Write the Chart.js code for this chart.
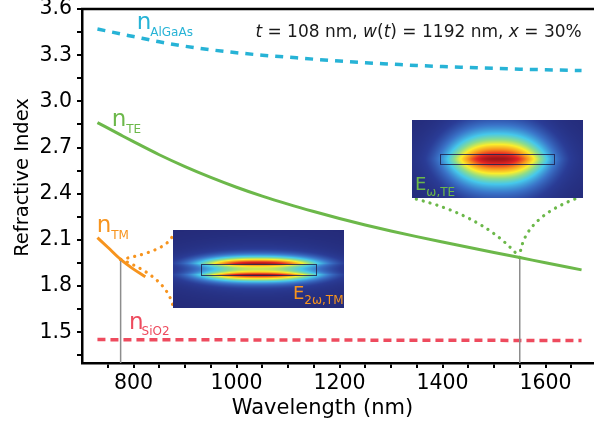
<!DOCTYPE html>
<html><head><meta charset="utf-8">
<script src="https://cdn.jsdelivr.net/npm/chart.js@4.4.1/dist/chart.umd.min.js"></script>
<style>
html,body{margin:0;padding:0;overflow:hidden;background:#fff;width:594px;height:433px}
#wrap{position:relative;width:598px;height:433px}
</style>
</head><body>
<div id="wrap"><canvas id="c" width="598" height="433"></canvas></div>
<script>
// ---------- data ----------
const wavelengths = [730, 775, 800, 850, 900, 950, 1000, 1050, 1100, 1150, 1200, 1250, 1300, 1350, 1400, 1450, 1500, 1550, 1600, 1670];
const nAlGaAs = [3.470, 3.438, 3.421, 3.387, 3.358, 3.335, 3.316, 3.300, 3.287, 3.274, 3.262, 3.251, 3.242, 3.233, 3.226, 3.220, 3.214, 3.209, 3.205, 3.200];
const nTE = [2.862, 2.782, 2.738, 2.653, 2.576, 2.506, 2.442, 2.384, 2.332, 2.284, 2.239, 2.197, 2.158, 2.121, 2.086, 2.052, 2.018, 1.985, 1.951, 1.905];
const tmWavelengths = [730, 750, 775, 800, 823];
const nTM = [2.114, 2.052, 1.973, 1.910, 1.861];
const sio2Wavelengths = [730, 1670];
const nSiO2 = [1.452, 1.446];
const markerWavelengths = [775, 1550];
const markerTops = [1.973, 1.985];
const xTickLabels = ['800', '1000', '1200', '1400', '1600'];
const yTickLabels = ['1.5', '1.8', '2.1', '2.4', '2.7', '3.0', '3.3', '3.6'];
const xRange = [700, 1700];
const yRange = [1.3, 3.6];

// ---------- styling / layout ----------
const COL = {cyan:'#27b3d6', green:'#6cb84a', orange:'#f7941e', red:'#ee4b5e', gray:'#8d8d8d', text:'#1a1a1a'};
const FONT = 'DejaVu Sans';
const pts = (xs, ys) => xs.map((x, i) => ({x: x, y: ys[i]}));

const layoutCfg = {
  insetTE: {x0:1340.2, x1:1672.2, y0:2.879, y1:2.370},
  insetTM: {x0:876.1, x1:1207.4, y0:2.164, y1:1.655},
  greenLinks: [
    {to:[1340.2, 2.372], c:[1480.6, 2.260]},
    {to:[1660.6, 2.370], c:[1554.4, 2.237]}
  ],
  orangeLinks: [
    {to:[876.1, 2.131], c:[866.8, 2.031]},
    {to:[877.3, 1.662], c:[864.9, 1.857]}
  ],
  labels: [
    {x:806.2, y:3.467, main:'n', sub:'AlGaAs', color:COL.cyan, size:23, subSize:12, dy:6.5, gap:-1},
    {x:757.7, y:2.840, main:'n', sub:'TE', color:COL.green, size:23, subSize:12, dy:6.7, gap:0},
    {x:728.5, y:2.153, main:'n', sub:'TM', color:COL.orange, size:23, subSize:12, dy:7.3, gap:0},
    {x:791.3, y:1.519, main:'n', sub:'SiO2', color:COL.red, size:23, subSize:12, dy:6, gap:-2},
    {x:1346.6, y:2.424, main:'E', sub:'\u03c9,TE', color:COL.green, size:18, subSize:12, dy:6, gap:0},
    {x:1109.7, y:1.716, main:'E', sub:'2\u03c9,TM', color:COL.orange, size:18, subSize:12, dy:5.3, gap:0}
  ],
  note: {x:1670.3, y:3.420, size:17,
    parts:[['t',1],[' = 108 nm, ',0],['w',1],['(',0],['t',1],[') = 1192 nm, ',0],['x',1],[' = 30%',0]]},
  xTitle: {text:'Wavelength (nm)', cx:322.5, base:414, size:21},
  yTitle: {text:'Refractive Index', cy:177.5, base:28.3, size:19.5}
};

// ---------- mode-profile pictures ----------
const cmapStops = [
  [0.00, [36, 42, 120]],
  [0.10, [42, 60, 150]],
  [0.22, [58, 115, 200]],
  [0.36, [70, 200, 235]],
  [0.48, [140, 220, 140]],
  [0.60, [250, 238, 45]],
  [0.73, [248, 150, 30]],
  [0.86, [228, 38, 36]],
  [1.00, [140, 16, 22]]
];
function cmap(v){
  v = Math.max(0, Math.min(1, v));
  for (let i = 1; i < cmapStops.length; i++){
    const a = cmapStops[i-1], b = cmapStops[i];
    if (v <= b[0]){
      const t = (v - a[0]) / (b[0] - a[0]);
      return [0,1,2].map(k => a[1][k] + t*(b[1][k] - a[1][k]));
    }
  }
  return cmapStops[cmapStops.length-1][1];
}
function modeCanvas(w, h, fn){
  const cv = document.createElement('canvas');
  cv.width = w; cv.height = h;
  const g = cv.getContext('2d');
  const img = g.createImageData(w, h);
  for (let j = 0; j < h; j++){
    for (let i = 0; i < w; i++){
      const dx = (i + 0.5 - w/2), dy = (j + 0.5 - h/2);
      const rgb = cmap(fn(dx, dy, w, h));
      const k = 4*(j*w + i);
      img.data[k] = Math.round(rgb[0]); img.data[k+1] = Math.round(rgb[1]);
      img.data[k+2] = Math.round(rgb[2]); img.data[k+3] = 255;
    }
  }
  g.putImageData(img, 0, 0);
  return cv;
}
function fieldTE(dx, dy, w, h){
  const sx = 48*w/171, sy = 24*h/78;
  const core = Math.exp(-(Math.pow(Math.abs(dx/sx), 2.5) + Math.pow(Math.abs(dy/sy), 1.3)));
  const halo = Math.exp(-((dx/(85*w/171))**2 + (dy/(36*h/78))**2));
  return 0.97*(0.9*core + 0.1*halo);
}
function fieldTM(dx, dy, w, h){
  const sx = 58*w/171, hh = 5.5*h/78, L = 6.5*h/78;
  const X = Math.exp(-Math.pow(Math.abs(dx/sx), 2.5));
  const a = Math.abs(dy);
  const Y = a <= hh ? 0.5 + 0.5*(a/hh)*(a/hh) : Math.exp(-Math.pow((a-hh)/L, 1.5));
  const halo = Math.exp(-((dx/(90*w/171))**2 + (dy/(26*h/78))**2));
  return 0.95*(0.86*X*Y + 0.14*halo);
}
const modeCache = {};

// ---------- decoration plugin ----------
const decor = {
  id: 'decor',
  afterDatasetsDraw(chart){
    const ctx = chart.ctx, xs = chart.scales.x, ys = chart.scales.y, ca = chart.chartArea;
    const X = v => xs.getPixelForValue(v), Y = v => ys.getPixelForValue(v);
    ctx.save();
    ctx.strokeStyle = '#000'; ctx.lineWidth = 2.5;
    ctx.beginPath(); ctx.moveTo(ca.left - 1, ca.top); ctx.lineTo(ca.right + 2, ca.top); ctx.stroke();

    function links(list, from, color){
      ctx.save();
      ctx.strokeStyle = color; ctx.lineWidth = 3.2; ctx.lineCap = 'round';
      ctx.setLineDash([0.1, 7]);
      list.forEach(l => {
        ctx.beginPath();
        ctx.moveTo(X(from[0]), Y(from[1]));
        ctx.quadraticCurveTo(X(l.c[0]), Y(l.c[1]), X(l.to[0]), Y(l.to[1]));
        ctx.stroke();
      });
      ctx.restore();
    }
    links(layoutCfg.greenLinks, [markerWavelengths[1], markerTops[1]], COL.green);
    links(layoutCfg.orangeLinks, [markerWavelengths[0], markerTops[0]], COL.orange);

    function inset(box, fn, key, wgW, wgH){
      const x0 = X(box.x0), x1 = X(box.x1), y0 = Y(box.y0), y1 = Y(box.y1);
      const w = Math.round(x1 - x0), h = Math.round(y1 - y0);
      const k = key + w + 'x' + h;
      if (!modeCache[k]) modeCache[k] = modeCanvas(w, h, fn);
      ctx.drawImage(modeCache[k], Math.round(x0), Math.round(y0));
      const cx = Math.round(x0) + w/2, cy = Math.round(y0) + h/2;
      ctx.strokeStyle = 'rgba(30,35,80,0.85)'; ctx.lineWidth = 1;
      ctx.strokeRect(Math.round(cx - wgW*w/2) + 0.5, Math.round(cy - wgH*h/2) + 0.5, Math.round(wgW*w), Math.round(wgH*h));
    }
    inset(layoutCfg.insetTE, fieldTE, 'te', 0.667, 0.128);
    inset(layoutCfg.insetTM, fieldTM, 'tm', 0.674, 0.141);

    ctx.textBaseline = 'alphabetic'; ctx.textAlign = 'left';
    layoutCfg.labels.forEach(l => {
      const px = X(l.x), py = Y(l.y);
      ctx.fillStyle = l.color;
      ctx.font = l.size + 'px "' + FONT + '"';
      ctx.fillText(l.main, px, py);
      const mw = ctx.measureText(l.main).width;
      ctx.font = l.subSize + 'px "' + FONT + '"';
      ctx.fillText(l.sub, px + mw + l.gap, py + l.dy);
    });

    const n = layoutCfg.note;
    const fonts = [n.size + 'px "' + FONT + '"', 'italic ' + n.size + 'px "' + FONT + '"'];
    let total = 0;
    n.parts.forEach(p => { ctx.font = fonts[p[1]]; total += ctx.measureText(p[0]).width; });
    let cx = X(n.x) - total;
    ctx.fillStyle = COL.text;
    n.parts.forEach(p => { ctx.font = fonts[p[1]]; ctx.fillText(p[0], cx, Y(n.y)); cx += ctx.measureText(p[0]).width; });

    ctx.fillStyle = '#000';
    const xt = layoutCfg.xTitle;
    ctx.font = xt.size + 'px "' + FONT + '"'; ctx.textAlign = 'center';
    ctx.fillText(xt.text, xt.cx, xt.base);
    const yt = layoutCfg.yTitle;
    ctx.font = yt.size + 'px "' + FONT + '"';
    ctx.translate(yt.base, yt.cy); ctx.rotate(-Math.PI/2);
    ctx.fillText(yt.text, 0, 0);
    ctx.restore();
  }
};

const lineDs = (label, data, color, width, dash) => ({
  label: label, data: data, borderColor: color, borderWidth: width, borderDash: dash || [],
  pointRadius: 0, fill: false, cubicInterpolationMode: 'monotone', borderCapStyle: 'butt'
});

const datasets = [
  lineDs('marker 775 nm', pts([markerWavelengths[0], markerWavelengths[0]], [yRange[0], markerTops[0]]), COL.gray, 1.5),
  lineDs('marker 1550 nm', pts([markerWavelengths[1], markerWavelengths[1]], [yRange[0], markerTops[1]]), COL.gray, 1.5),
  lineDs('n SiO2', pts(sio2Wavelengths, nSiO2), COL.red, 3.5, [8, 5]),
  lineDs('n AlGaAs', pts(wavelengths, nAlGaAs), COL.cyan, 3.5, [8, 7]),
  lineDs('n TE', pts(wavelengths, nTE), COL.green, 3),
  lineDs('n TM', pts(tmWavelengths, nTM), COL.orange, 3)
];

new Chart(document.getElementById('c'), {
  type: 'line',
  data: {datasets: datasets},
  plugins: [decor],
  options: {
    responsive: false, animation: false,
    layout: {padding: {left: 0, right: 1, top: 9, bottom: 0}},
    plugins: {legend: {display: false}, tooltip: {enabled: false}},
    scales: {
      x: {
        type: 'linear', min: xRange[0], max: xRange[1],
        afterBuildTicks: s => { const t = []; for (let v = xRange[0] + 50; v <= xRange[1]; v += 50) t.push({value: v}); s.ticks = t; },
        afterFit: s => { s.height = 70; s.paddingLeft = 0; s.paddingRight = 0; },
        ticks: {
          autoSkip: false, maxRotation: 0, padding: 3, color: '#000',
          font: {family: FONT, size: 20.5},
          callback: v => xTickLabels.includes(String(v)) ? String(v) : ''
        },
        grid: {display: true, drawOnChartArea: false, drawTicks: true, tickLength: 5, color: '#000', lineWidth: 2},
        border: {display: true, color: '#000', width: 2.5}
      },
      y: {
        type: 'linear', min: yRange[0], max: yRange[1],
        afterBuildTicks: s => { const t = []; for (let i = 0; i < 16; i++) t.push({value: Math.round((1.35 + 0.15*i)*100)/100}); s.ticks = t; },
        afterFit: s => { s.width = 82; s.paddingTop = 0; s.paddingBottom = 0; },
        ticks: {
          autoSkip: false, padding: 5, color: '#000',
          font: {family: FONT, size: 20.5},
          callback: v => { const lab = v.toFixed(1); return (Math.abs(parseFloat(lab) - v) < 1e-6 && yTickLabels.includes(lab)) ? lab : ''; }
        },
        grid: {display: true, drawOnChartArea: false, drawTicks: true, tickLength: 5, color: '#000', lineWidth: 2},
        border: {display: true, color: '#000', width: 2.5}
      }
    }
  }
});
</script>
</body></html>
